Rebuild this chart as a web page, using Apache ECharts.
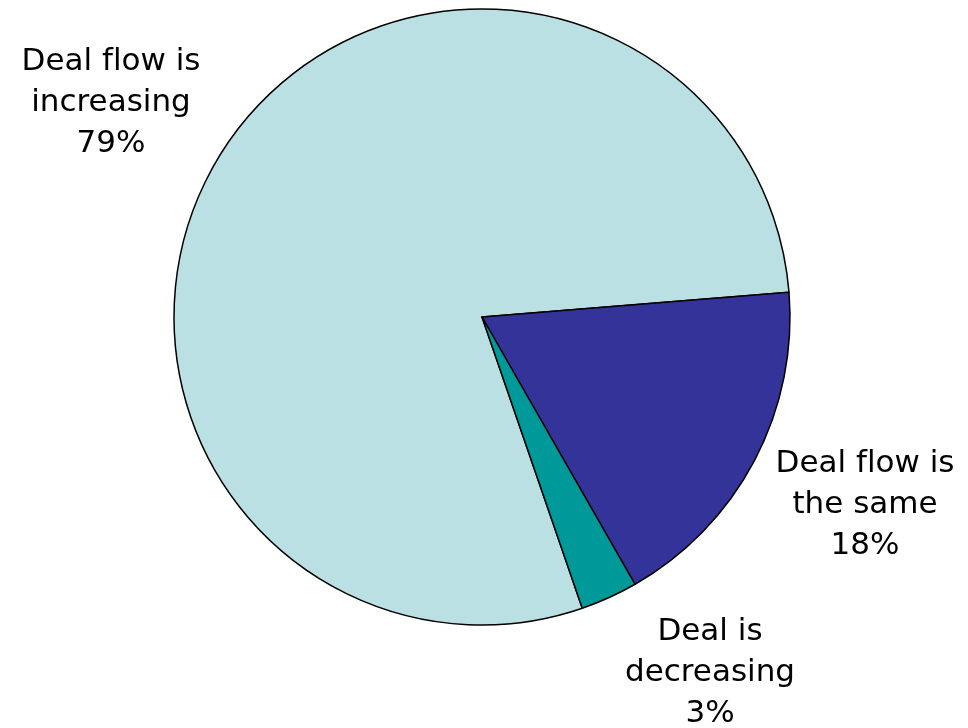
<!DOCTYPE html>
<html>
<head>
<meta charset="utf-8">
<script src="https://cdn.jsdelivr.net/npm/echarts@6/dist/echarts.min.js"></script>
<style>html,body{margin:0;padding:0;background:#fff;}#c{width:968px;height:728px;}</style>
</head>
<body>
<div id="c"></div>
<script>
var categories = ['Deal f\u200Clow is\nincreasing', 'Deal f\u200Clow is\nthe same', 'Deal is\ndecreasing'];
var values = [79, 18, 3];
var colors = ['#BBE0E3', '#333399', '#009999'];

var labelSpots = [[111, 103], [865, 505], [710, 673]];

var chart = echarts.init(document.getElementById('c'), null, {renderer: 'canvas'});
chart.setOption({
  animation: false,
  backgroundColor: '#ffffff',
  series: [{
    type: 'pie',
    center: [482, 317],
    radius: [0, 308],
    startAngle: 289,
    clockwise: true,
    avoidLabelOverlap: false,
    data: categories.map(function (c, i) {
      return {name: c, value: values[i], itemStyle: {color: colors[i]}};
    }),
    itemStyle: {borderColor: '#000', borderWidth: 1.5},
    label: {
      show: true,
      position: 'outside',
      formatter: function (p) { return p.name + '\n' + p.value + '%'; },
      fontFamily: 'DejaVu Sans',
      fontSize: 31,
      lineHeight: 41,
      color: '#000',
      align: 'center'
    },
    labelLine: {show: false},
    labelLayout: function (p) {
      var s = labelSpots[p.dataIndex];
      return {x: s[0], y: s[1], align: 'center', verticalAlign: 'middle'};
    },
    emphasis: {disabled: true}
  }]
});
</script>
</body>
</html>
